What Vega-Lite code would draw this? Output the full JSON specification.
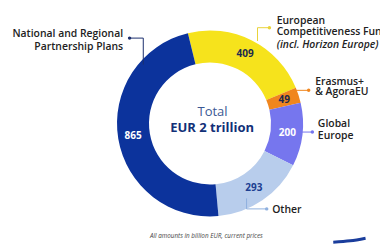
{
  "$schema": "https://vega.github.io/schema/vega-lite/v6.json",
  "width": 340,
  "height": 247,
  "autosize": {"type": "none"},
  "padding": {"left": 40, "top": 0, "right": 0, "bottom": 0},
  "background": "white",
  "config": {"view": {"stroke": null}, "font": "Open Sans"},
  "datasets": {
    "seg": [
      {"name": "European Competitiveness Fund", "ord": 1, "value": 409},
      {"name": "Erasmus+ & AgoraEU", "ord": 2, "value": 49},
      {"name": "Global Europe", "ord": 3, "value": 200},
      {"name": "Other", "ord": 4, "value": 293},
      {"name": "National and Regional Partnership Plans", "ord": 5, "value": 865}
    ],
    "leaders": [
      {"name": "National and Regional Partnership Plans", "x": -0.946, "y": 0.968, "x2": -0.785, "y2": 0.968},
      {"name": "National and Regional Partnership Plans", "x": -0.785, "y": 0.968, "x2": -0.785, "y2": 0.667},
      {"name": "European Competitiveness Fund", "x": 0.559, "y": 1.086, "x2": 0.699, "y2": 1.086},
      {"name": "European Competitiveness Fund", "x": 0.559, "y": 1.086, "x2": 0.559, "y2": 0.935},
      {"name": "Erasmus+ & AgoraEU", "x": 1.0, "y": 0.376, "x2": 1.161, "y2": 0.376},
      {"name": "Global Europe", "x": 1.02, "y": -0.097, "x2": 1.204, "y2": -0.097},
      {"name": "Other", "x": 0.43, "y": -0.849, "x2": 0.43, "y2": -0.968},
      {"name": "Other", "x": 0.43, "y": -0.968, "x2": 0.667, "y2": -0.968}
    ],
    "dots": [
      {"name": "National and Regional Partnership Plans", "x": -0.946, "y": 0.968},
      {"name": "European Competitiveness Fund", "x": 0.699, "y": 1.086},
      {"name": "Erasmus+ & AgoraEU", "x": 1.161, "y": 0.376},
      {"name": "Global Europe", "x": 1.204, "y": -0.097},
      {"name": "Other", "x": 0.667, "y": -0.968}
    ],
    "labelsLeft": [
      {"t": "National and Regional", "x": -1.022, "y": 1.011},
      {"t": "Partnership Plans", "x": -1.022, "y": 0.871}
    ],
    "labelsRight": [
      {"t": "European", "x": 0.785, "y": 1.161},
      {"t": "Competitiveness Fund", "x": 0.785, "y": 1.032},
      {"t": "Erasmus+", "x": 1.237, "y": 0.473},
      {"t": "& AgoraEU", "x": 1.237, "y": 0.355},
      {"t": "Global", "x": 1.269, "y": -0.011},
      {"t": "Europe", "x": 1.269, "y": -0.14},
      {"t": "Other", "x": 0.731, "y": -0.978}
    ],
    "labelsItalic": [
      {"t": "(incl. Horizon Europe)", "x": 0.785, "y": 0.892}
    ],
    "center": [
      {"t": "Total", "x": 0.03, "y": 0.129}
    ],
    "centerBold": [
      {"t": "EUR 2 trillion", "x": 0.025, "y": -0.054}
    ],
    "note": [
      {"t": "All amounts in billion EUR, current prices", "x": -0.043, "y": -1.28}
    ],
    "swoosh": [
      {"x": 1.45, "y": -1.345},
      {"x": 1.65, "y": -1.33},
      {"x": 1.83, "y": -1.3}
    ]
  },
  "resolve": {"scale": {"color": "independent"}},
  "layer": [
    {
      "data": {"name": "seg"},
      "mark": {"type": "arc", "outerRadius": 93, "innerRadius": 61},
      "encoding": {
        "theta": {"field": "value", "type": "quantitative", "stack": true, "scale": {"range": [-0.24, 6.0432]}},
        "order": {"field": "ord", "type": "quantitative"},
        "color": {"field": "name", "type": "nominal", "legend": null,
          "scale": {"domain": ["European Competitiveness Fund", "Erasmus+ & AgoraEU", "Global Europe", "Other", "National and Regional Partnership Plans"],
                    "range": ["#f6e31c", "#f0861e", "#7676ee", "#b8cdec", "#0c339c"]}}
      }
    },
    {
      "data": {"name": "seg"},
      "mark": {"type": "text", "radius": 78, "fontSize": 10, "fontWeight": "bold"},
      "encoding": {
        "theta": {"field": "value", "type": "quantitative", "stack": true},
        "order": {"field": "ord", "type": "quantitative"},
        "text": {"field": "value", "type": "quantitative"},
        "color": {"field": "name", "type": "nominal", "legend": null,
          "scale": {"domain": ["European Competitiveness Fund", "Erasmus+ & AgoraEU", "Global Europe", "Other", "National and Regional Partnership Plans"],
                    "range": ["#1c2a4e", "#1c2a4e", "#ffffff", "#1d3f91", "#ffffff"]}}
      }
    },
    {
      "data": {"name": "leaders"},
      "mark": {"type": "rule", "strokeWidth": 1},
      "encoding": {
        "x": {"field": "x", "type": "quantitative", "scale": {"domain": [-1.828, 1.828]}, "axis": null},
        "y": {"field": "y", "type": "quantitative", "scale": {"domain": [-1.328, 1.328]}, "axis": null},
        "x2": {"field": "x2"},
        "y2": {"field": "y2"},
        "color": {"field": "name", "type": "nominal", "legend": null,
          "scale": {"domain": ["European Competitiveness Fund", "Erasmus+ & AgoraEU", "Global Europe", "Other", "National and Regional Partnership Plans"],
                    "range": ["#e9d33a", "#f0861e", "#7676ee", "#8fb0df", "#1c2f6e"]}}
      }
    },
    {
      "data": {"name": "dots"},
      "mark": {"type": "point", "filled": true, "size": 12, "opacity": 1},
      "encoding": {
        "x": {"field": "x", "type": "quantitative"},
        "y": {"field": "y", "type": "quantitative"},
        "color": {"field": "name", "type": "nominal", "legend": null,
          "scale": {"domain": ["European Competitiveness Fund", "Erasmus+ & AgoraEU", "Global Europe", "Other", "National and Regional Partnership Plans"],
                    "range": ["#e9d33a", "#f0861e", "#7676ee", "#8fb0df", "#1c2f6e"]}}
      }
    },
    {
      "data": {"name": "swoosh"},
      "mark": {"type": "line", "strokeWidth": 3, "color": "#1a3d9c", "interpolate": "monotone"},
      "encoding": {
        "x": {"field": "x", "type": "quantitative"},
        "y": {"field": "y", "type": "quantitative"}
      }
    },
    {
      "data": {"name": "labelsLeft"},
      "mark": {"type": "text", "align": "right", "baseline": "middle", "fontSize": 10.4, "fontWeight": 600, "color": "#222222"},
      "encoding": {
        "x": {"field": "x", "type": "quantitative"},
        "y": {"field": "y", "type": "quantitative"},
        "text": {"field": "t"}
      }
    },
    {
      "data": {"name": "labelsRight"},
      "mark": {"type": "text", "align": "left", "baseline": "middle", "fontSize": 10.4, "fontWeight": 600, "color": "#222222"},
      "encoding": {
        "x": {"field": "x", "type": "quantitative"},
        "y": {"field": "y", "type": "quantitative"},
        "text": {"field": "t"}
      }
    },
    {
      "data": {"name": "labelsItalic"},
      "mark": {"type": "text", "align": "left", "baseline": "middle", "fontSize": 10.4, "fontWeight": 600, "fontStyle": "italic", "color": "#222222"},
      "encoding": {
        "x": {"field": "x", "type": "quantitative"},
        "y": {"field": "y", "type": "quantitative"},
        "text": {"field": "t"}
      }
    },
    {
      "data": {"name": "center"},
      "mark": {"type": "text", "align": "center", "baseline": "middle", "fontSize": 13, "color": "#3b5894"},
      "encoding": {
        "x": {"field": "x", "type": "quantitative"},
        "y": {"field": "y", "type": "quantitative"},
        "text": {"field": "t"}
      }
    },
    {
      "data": {"name": "centerBold"},
      "mark": {"type": "text", "align": "center", "baseline": "middle", "fontSize": 13, "fontWeight": "bold", "color": "#123078"},
      "encoding": {
        "x": {"field": "x", "type": "quantitative"},
        "y": {"field": "y", "type": "quantitative"},
        "text": {"field": "t"}
      }
    },
    {
      "data": {"name": "note"},
      "mark": {"type": "text", "align": "center", "baseline": "middle", "fontSize": 6.3, "fontStyle": "italic", "color": "#444444"},
      "encoding": {
        "x": {"field": "x", "type": "quantitative"},
        "y": {"field": "y", "type": "quantitative"},
        "text": {"field": "t"}
      }
    }
  ]
}
